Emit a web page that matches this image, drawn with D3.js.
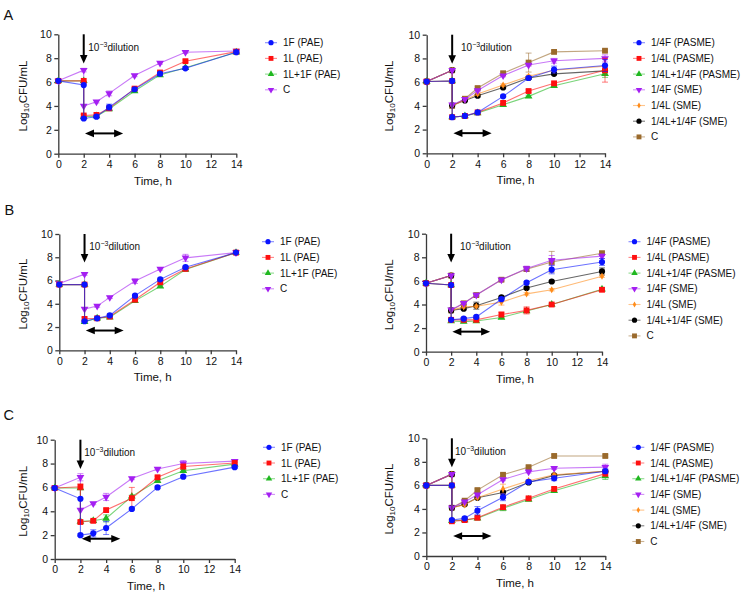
<!DOCTYPE html>
<html><head><meta charset="utf-8">
<script src="https://cdn.jsdelivr.net/npm/d3@7"></script>
<style>
body{margin:0;background:#fff}
svg{display:block}
text{font-family:"Liberation Sans",Arial,Helvetica,sans-serif;fill:#111}
</style>
</head><body>
<svg id="chart" width="754" height="598"></svg>
<script>
// ---------- DATA ----------
const times = [0, 2, 2, 3, 4, 6, 8, 10, 14];
const xTicks = [0, 2, 4, 6, 8, 10, 12, 14];
const yTicks = [0, 2, 4, 6, 8, 10];
const namesPAE = ["1F (PAE)", "1L (PAE)", "1L+1F (PAE)", "C"];
const namesSME = ["1/4F (PASME)", "1/4L (PASME)", "1/4L+1/4F (PASME)", "1/4F (SME)", "1/4L (SME)", "1/4L+1/4F (SME)", "C"];
const panelLabels = ["A", "B", "C"];

// Panel A left
const A_left = [
  [6.1, 5.75, 2.95, 3.1, 3.9, 5.4, 6.7, 7.15, 8.5],
  [6.1, 6.1, 3.2, 3.25, 3.8, 5.45, 6.8, 7.75, 8.55],
  [6.1, 6.1, 3.1, 3.15, 3.75, 5.25, 6.6, 7.2, 8.5],
  [6.1, 7.0, 4.0, 4.35, 5.05, 6.55, 7.6, 8.5, 8.6]
];
const A_left_err = [
  [0, 0, 0.1, 0.1, 0.25, 0.1, 0.1, 0.1, 0.1],
  [0, 0, 0.1, 0, 0.1, 0.1, 0.1, 0.1, 0.1],
  [0, 0, 0, 0, 0.1, 0.1, 0.1, 0.1, 0],
  [0, 0.15, 0, 0.1, 0.2, 0.1, 0.1, 0.1, 0.1]
];
// Panel A right
const A_right = [
  [6.05, 6.1, 3.05, 3.15, 3.45, 4.8, 6.35, 7.05, 7.4],
  [6.05, 6.1, 3.05, 3.15, 3.45, 4.25, 5.25, 5.9, 7.0],
  [6.05, 6.1, 3.05, 3.15, 3.4, 4.1, 4.8, 5.7, 6.7],
  [6.05, 7.0, 4.1, 4.55, 5.3, 6.55, 7.45, 7.8, 8.0],
  [6.05, 7.0, 4.0, 4.5, 5.0, 5.75, 6.5, 7.0, 7.35],
  [6.05, 7.0, 4.05, 4.45, 4.85, 5.55, 6.35, 6.7, 6.95],
  [6.05, 7.0, 4.0, 4.6, 5.5, 6.75, 7.65, 8.55, 8.65]
];
const A_right_err = [
  [0, 0, 0, 0, 0, 0.1, 0.1, 0.3, 0.5],
  [0, 0, 0, 0, 0, 0.1, 0.1, 0.1, 1.0],
  [0, 0, 0, 0, 0, 0.1, 0.1, 0.1, 0.3],
  [0, 0, 0, 0, 0.1, 0.1, 0.1, 0.2, 0.3],
  [0, 0, 0, 0, 0.1, 0.1, 0.1, 0.1, 0.6],
  [0, 0, 0, 0, 0.1, 0.1, 0.1, 0.1, 0.1],
  [0, 0, 0, 0, 0.1, 0.1, 0.8, 0.1, 0.1]
];
// Panel B left
const B_left = [
  [5.65, 5.65, 2.5, 2.75, 3.0, 4.7, 6.1, 7.15, 8.4],
  [5.65, 5.65, 2.7, 2.75, 2.9, 4.35, 5.85, 7.0, 8.4],
  [5.65, 5.65, 2.45, 2.75, 2.85, 4.25, 5.5, 6.95, 8.4],
  [5.75, 6.55, 3.55, 3.8, 4.55, 5.95, 7.0, 7.95, 8.4]
];
const B_left_err = [
  [0, 0, 0.1, 0.1, 0.1, 0.1, 0.1, 0.1, 0],
  [0, 0, 0.15, 0, 0.1, 0.15, 0.1, 0.1, 0],
  [0, 0, 0, 0, 0, 0.1, 0.1, 0.1, 0],
  [0, 0.1, 0, 0.1, 0.1, 0.2, 0.1, 0.3, 0]
];
// Panel B right
const B_right = [
  [5.8, 5.65, 2.7, 2.8, 2.95, 4.45, 5.85, 6.95, 7.6],
  [5.8, 5.65, 2.7, 2.7, 2.7, 3.15, 3.5, 4.0, 5.25],
  [5.8, 5.65, 2.6, 2.55, 2.6, 2.9, 3.45, 4.0, 5.3],
  [5.8, 6.45, 3.55, 4.1, 4.8, 6.1, 7.05, 7.75, 8.1],
  [5.8, 6.45, 3.5, 3.8, 3.85, 4.2, 4.9, 5.25, 6.4],
  [5.8, 6.45, 3.5, 3.65, 3.9, 4.6, 5.4, 5.95, 6.8],
  [5.8, 6.45, 3.5, 4.1, 4.8, 6.1, 7.0, 7.6, 8.35]
];
const B_right_err = [
  [0, 0, 0, 0.1, 0.1, 0.1, 0.1, 0.35, 0.3],
  [0, 0, 0, 0.1, 0.1, 0.2, 0.3, 0.1, 0.15],
  [0, 0, 0, 0.1, 0, 0.1, 0.1, 0.1, 0.1],
  [0, 0, 0, 0.1, 0.1, 0.1, 0.2, 0.4, 0.2],
  [0, 0, 0, 0.1, 0.1, 0.25, 0.1, 0.1, 0.1],
  [0, 0, 0, 0.1, 0.3, 0.1, 0.1, 0.1, 0.3],
  [0, 0, 0, 0.1, 0.1, 0.1, 0.2, 0.9, 0.1]
];
// Panel C left
const C_left = [
  [5.95, 5.05, 2.0, 2.15, 2.6, 4.2, 6.0, 6.9, 7.7],
  [5.95, 6.05, 3.1, 3.2, 4.1, 5.1, 6.85, 7.75, 8.05],
  [5.95, 5.95, 3.15, 3.2, 3.4, 5.25, 6.55, 7.4, 7.95],
  [5.95, 6.85, 4.1, 4.65, 5.2, 6.75, 7.55, 8.0, 8.2]
];
const C_left_err = [
  [0, 0, 0.1, 0.3, 0.55, 0.1, 0.1, 0.1, 0.1],
  [0, 0.25, 0.1, 0.1, 0.1, 0.9, 0.1, 0.2, 0.1],
  [0, 0, 0, 0.1, 0.3, 0.1, 0.1, 0.1, 0.1],
  [0, 0.3, 0, 0.1, 0.3, 0.1, 0.1, 0.25, 0.1]
];
// Panel C right
const C_right = [
  [6.0, 6.0, 3.05, 3.2, 3.85, 5.0, 6.3, 6.6, 7.2],
  [6.0, 6.0, 2.95, 3.05, 3.25, 4.15, 4.9, 5.7, 7.0],
  [6.0, 6.0, 3.0, 3.05, 3.2, 4.05, 4.8, 5.55, 6.8],
  [6.0, 6.95, 4.1, 4.6, 5.2, 6.5, 7.15, 7.45, 7.55],
  [6.0, 6.95, 4.1, 4.35, 4.95, 5.7, 6.4, 6.9, 7.2],
  [6.0, 6.95, 4.1, 4.4, 4.95, 5.4, 6.25, 6.85, 7.2],
  [6.0, 6.95, 4.1, 4.7, 5.6, 6.9, 7.55, 8.5, 8.5]
];
const C_right_err = [
  [0, 0, 0, 0.1, 0.35, 0.3, 0.1, 0.2, 0.2],
  [0, 0, 0, 0.1, 0.1, 0.1, 0.1, 0.1, 0.2],
  [0, 0, 0, 0.1, 0.1, 0.2, 0.1, 0.1, 0.3],
  [0, 0, 0, 0.1, 0.1, 0.1, 0.1, 0.1, 0.25],
  [0, 0, 0, 0.1, 0.1, 0.4, 0.1, 0.1, 0.1],
  [0, 0, 0, 0.1, 0.1, 0.1, 0.1, 0.1, 0.1],
  [0, 0, 0, 0.1, 0.1, 0.1, 0.1, 0.1, 0.1]
];
// dilution annotations (data units)
const dilutionX = 2;
const dilutionArrowY = [10, 7.55];
const windowArrow = {x0: 2.1, x1: 5.1, y: 1.7};

// ---------- STYLES ----------
const stylePAE = [
  {color: "#0a14ff", sym: "circle"},
  {color: "#ff1010", sym: "square"},
  {color: "#20b820", sym: "triangle"},
  {color: "#a41ff2", sym: "triangleDown"}
];
const styleSME = [
  {color: "#0a14ff", sym: "circle"},
  {color: "#ff1010", sym: "square"},
  {color: "#20b820", sym: "triangle"},
  {color: "#a41ff2", sym: "triangleDown"},
  {color: "#ff8c1a", sym: "diamond"},
  {color: "#000000", sym: "circle"},
  {color: "#9a6a2c", sym: "square"}
];

const panels = [
  {label: "A", data: A_left, err: A_left_err, names: namesPAE, st: stylePAE, x0: 58.3, x1: 236.3, yb: 153.7, yt: 34.3, legX: 265, legY: 42.7, txtX: 88.3, ylabX: 24, timeX: 153, lab: [3.5, 20]},
  {data: A_right, err: A_right_err, names: namesSME, st: styleSME, x0: 426.7, x1: 605, yb: 153.3, yt: 34.7, legX: 633, legY: 42.7, txtX: 461, ylabX: 389.5, timeX: 515.5},
  {label: "B", data: B_left, err: B_left_err, names: namesPAE, st: stylePAE, x0: 59.3, x1: 236, yb: 350.3, yt: 234, legX: 262, legY: 241.7, txtX: 89.3, ylabX: 24, timeX: 152.7, lab: [4.5, 214.5]},
  {data: B_right, err: B_right_err, names: namesSME, st: styleSME, x0: 426, x1: 602, yb: 351.7, yt: 233.7, legX: 628.5, legY: 241.7, txtX: 460, ylabX: 389.5, timeX: 515},
  {label: "C", data: C_left, err: C_left_err, names: namesPAE, st: stylePAE, x0: 54.7, x1: 234.7, yb: 559, yt: 439.7, legX: 263, legY: 447.3, txtX: 84.3, ylabX: 24.3, timeX: 146, lab: [3.5, 419.5]},
  {data: C_right, err: C_right_err, names: namesSME, st: styleSME, x0: 426.3, x1: 605.3, yb: 556, yt: 438.3, legX: 632.3, legY: 447.3, txtX: 455, ylabX: 390, timeX: 515}
];

const svg = d3.select("#chart");

function symbolPath(name, scale) {
  const map = {
    circle: [d3.symbolCircle, 30],
    square: [d3.symbolSquare, 34],
    triangle: [d3.symbolTriangle, 26],
    triangleDown: [d3.symbolTriangle, 26],
    diamond: [d3.symbolDiamond, 15]
  };
  const m = map[name];
  return d3.symbol().type(m[0]).size(m[1] * scale)();
}

panels.forEach(p => {
  const x = d3.scaleLinear().domain([0, 14]).range([p.x0, p.x1]);
  const y = d3.scaleLinear().domain([0, 10]).range([p.yb, p.yt]);
  const g = svg.append("g");

  // axes
  const ax = g.append("g").attr("transform", `translate(0,${p.yb})`)
    .call(d3.axisBottom(x).tickValues(xTicks).tickSize(4).tickSizeOuter(0).tickPadding(3));
  const ay = g.append("g").attr("transform", `translate(${p.x0},0)`)
    .call(d3.axisLeft(y).tickValues(yTicks).tickSize(4).tickSizeOuter(0).tickPadding(2.5));
  [ax, ay].forEach(a => {
    a.selectAll("path,line").attr("stroke", "#3a3a3a").attr("stroke-width", 1.3);
    a.selectAll("text").style("font-size", "10.5px").style("font-family", '"Liberation Sans",Arial,sans-serif').attr("fill", "#111");
  });

  // axis titles
  const yl = g.append("text")
    .attr("transform", `translate(${p.ylabX},${(p.yb + p.yt) / 2 + 2}) rotate(-90)`)
    .attr("text-anchor", "middle").attr("dominant-baseline", "middle")
    .style("font-size", "11.5px");
  yl.append("tspan").text("Log");
  yl.append("tspan").attr("dy", 3).style("font-size", "8px").text("10");
  yl.append("tspan").attr("dy", -3).text("CFU/mL");
  g.append("text").attr("x", p.timeX).attr("y", p.yb + 31)
    .attr("text-anchor", "middle").style("font-size", "11.5px").text("Time, h");

  // dilution arrow (vertical)
  const ax0 = x(dilutionX), ayTop = y(dilutionArrowY[0]), ayTip = y(dilutionArrowY[1]);
  g.append("line").attr("x1", ax0).attr("x2", ax0).attr("y1", ayTop).attr("y2", ayTip - 6)
    .attr("stroke", "#000").attr("stroke-width", 2);
  g.append("path").attr("d", `M${ax0 - 3.8},${ayTip - 8.5}L${ax0 + 3.8},${ayTip - 8.5}L${ax0},${ayTip}Z`).attr("fill", "#000");
  const dt = g.append("text").attr("x", p.txtX).attr("y", y(dilutionArrowY[0]) + 16.4).style("font-size", "10px");
  dt.append("tspan").text("10");
  dt.append("tspan").attr("dy", -4).style("font-size", "7px").text("\u22123");
  dt.append("tspan").attr("dy", 4).text("dilution");

  // horizontal double arrow
  const hx0 = x(windowArrow.x0), hx1 = x(windowArrow.x1), hy = y(windowArrow.y);
  g.append("line").attr("x1", hx0 + 6).attr("x2", hx1 - 6).attr("y1", hy).attr("y2", hy)
    .attr("stroke", "#000").attr("stroke-width", 2);
  g.append("path").attr("d", `M${hx0},${hy}L${hx0 + 9},${hy - 3.8}L${hx0 + 9},${hy + 3.8}Z`).attr("fill", "#000");
  g.append("path").attr("d", `M${hx1},${hy}L${hx1 - 9},${hy - 3.8}L${hx1 - 9},${hy + 3.8}Z`).attr("fill", "#000");

  // series (drawn last-first so first series is on top)
  const line = d3.line().x((d, i) => x(times[i])).y(d => y(d));
  const order = d3.range(p.data.length).reverse();
  order.forEach(si => {
    const vals = p.data[si], errs = p.err[si], st = p.st[si];
    const sg = g.append("g");
    sg.append("path").datum(vals).attr("d", line).attr("fill", "none")
      .attr("stroke", st.color).attr("stroke-opacity", 0.6).attr("stroke-width", 1.1);
    vals.forEach((v, i) => {
      const e = errs[i];
      if (e > 0) {
        const cx = x(times[i]);
        sg.append("line").attr("x1", cx).attr("x2", cx).attr("y1", y(v - e)).attr("y2", y(v + e))
          .attr("stroke", st.color).attr("stroke-opacity", 0.55).attr("stroke-width", 1);
        [v - e, v + e].forEach(ev => sg.append("line").attr("x1", cx - 3).attr("x2", cx + 3)
          .attr("y1", y(ev)).attr("y2", y(ev)).attr("stroke", st.color).attr("stroke-opacity", 0.55).attr("stroke-width", 1));
      }
    });
    sg.selectAll("path.m").data(vals).enter().append("path").attr("class", "m")
      .attr("d", symbolPath(st.sym, 1))
      .attr("transform", (d, i) => `translate(${x(times[i])},${y(d)})${st.sym === "triangleDown" ? " rotate(180)" : ""}`)
      .attr("fill", st.color);
  });

  // legend
  p.names.forEach((n, i) => {
    const ly = p.legY + i * 15.7, st = p.st[i];
    g.append("line").attr("x1", p.legX).attr("x2", p.legX + 12).attr("y1", ly).attr("y2", ly)
      .attr("stroke", st.color).attr("stroke-opacity", 0.5).attr("stroke-width", 1.1);
    g.append("path").attr("d", symbolPath(st.sym, 0.7))
      .attr("transform", `translate(${p.legX + 6},${ly})${st.sym === "triangleDown" ? " rotate(180)" : ""}`)
      .attr("fill", st.color);
    g.append("text").attr("x", p.legX + 18).attr("y", ly).attr("dominant-baseline", "central")
      .style("font-size", "10px").text(n);
  });

  if (p.label) {
    g.append("text").attr("x", p.lab[0]).attr("y", p.lab[1]).style("font-size", "14.5px").text(p.label);
  }
});
</script>
</body></html>
